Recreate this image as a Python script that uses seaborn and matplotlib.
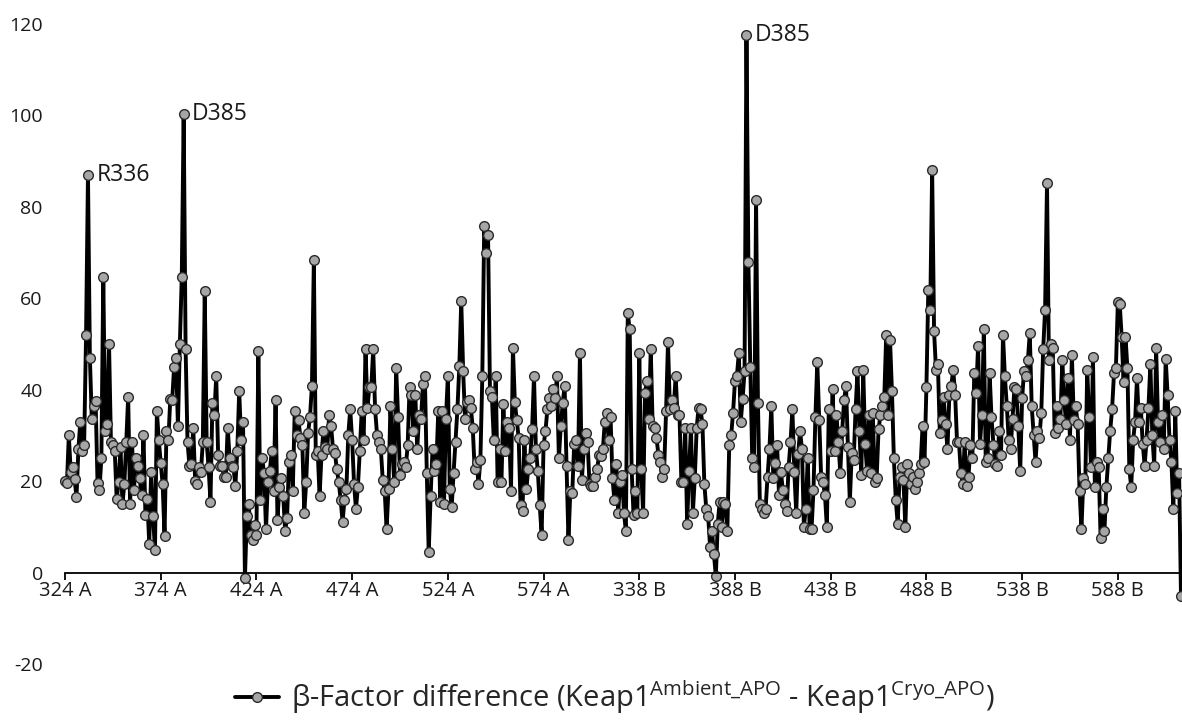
import matplotlib
matplotlib.use("Agg")
import matplotlib.pyplot as plt
import seaborn as sns
import numpy as np
import pandas as pd

# ---- data ----
chain_a_values = [
    20, 19.5, 30, 22, 23, 20.5, 16.5, 27, 33, 26.5, 28, 52, 87, 47, 33.5, 36.5, 37.5, 19.5, 18, 25,
    64.7, 31, 32.5, 50, 28.6, 28, 26.6, 16, 19.8, 27.4, 15, 19.4, 28.6, 38.5, 15, 28.6, 18, 25, 23.4, 20.6,
    17, 30, 12.7, 16, 6.3, 22, 12.3, 5, 35.3, 29, 24, 19.4, 8, 31, 29, 38, 37.7, 45, 47, 32,
    50, 64.7, 100.4, 49, 28.6, 23.4, 23.8, 31.7, 20, 19.4, 23, 22, 28.6, 61.5, 28.6, 23, 15.5, 37, 34.5, 42.9,
    25.8, 23.4, 23.4, 21, 21, 31.7, 25, 23.4, 23, 19, 26.6, 39.7, 29, 33, -1.2, 12.3, 15, 8.3, 7.1, 10.3,
    8.3, 48.4, 15.9, 25, 21.8, 9.5, 19.8, 22.2, 26.6, 17.9, 37.7, 11.5, 18.7, 20.6, 16.7, 9.1, 11.9, 24.2, 25.8, 17.9,
    35.3, 30.2, 33.3, 29.4, 27.8, 13.1, 19.8, 30.6, 34.1, 40.9, 68.3, 25.8, 26.6, 16.7, 25.8, 31, 27.4, 27, 34.5, 32.1,
    27, 26.2, 22.6, 19.8, 15.9, 11.1, 15.9, 18.3, 30.2, 35.7, 29, 19.4, 13.9, 18.7, 26.6, 35.3, 29, 48.8, 36.1, 40.5,
    40.5, 48.8, 35.7, 30.2, 28.6, 27, 20.2, 17.9, 9.5, 18.3, 36.5, 27, 19.8, 44.8, 34.1, 21.4, 23.8, 24.2, 23, 27.8,
    40.5, 38.9, 31, 38.9, 27, 34.5, 33.7, 41.3, 42.9, 21.8, 4.4, 16.7, 27, 22.2, 23.8, 35.3, 15.5, 35.3, 15, 33.7,
    42.9, 18.3, 14.3, 21.8, 28.6, 35.7, 45.2, 59.5, 44, 33.7, 37.3, 37.7, 36.1, 31.7, 22.6, 24.2, 19.4, 24.6, 42.9, 75.8,
    69.8, 73.8, 39.7, 38.5, 29, 42.9, 19.8, 27, 19.8, 36.9, 26.6, 33, 31.7, 17.9, 49.2, 37.3, 33.3, 29.4, 14.7, 13.5,
    29, 18.3, 22.6, 25, 31.3, 42.9, 27, 22.2, 14.7, 8.3, 27.8, 31, 35.7, 38.1, 36.5, 40.1, 38.1, 42.9, 25, 32.1,
    37, 40.9, 23.4, 7.1, 17.9, 17.5, 28.2, 29, 23.4, 48, 20.2, 27, 30.6, 28.6, 19.4, 19, 19, 21, 22.6, 25.8,
    25.4, 27, 33, 34.9, 29, 34.1,
]
chain_b_values = [
    20.6, 15.9, 23.8, 13.1, 19.8, 21.4, 13.1, 9.1, 56.7, 53.2, 22.6, 12.7, 17.9, 13.1, 48, 22.6, 13.1, 39.3, 42, 33.7,
    48.8, 32.1, 31.7, 29.4, 25.8, 24.2, 21, 22.6, 35.3, 50.4, 35.7, 37.7, 36.1, 42.9, 34.5, 34.5, 19.8, 19.8, 31.7, 10.7,
    22.2, 31.7, 13.1, 20.6, 31.7, 36.1, 35.7, 32.5, 19.4, 13.9, 12.3, 5.6, 9.1, 4, -0.8, 10.7, 15.5, 9.9, 15.5, 15,
    9, 28, 30, 35, 42, 43, 48, 33, 38, 44, 117.6, 68, 45, 25, 23, 81.6, 37, 15, 14, 13,
    14, 21, 27, 36.5, 20.6, 24, 28, 17, 22, 18, 15, 13.5, 23, 28.5, 35.7, 22, 13, 26, 31, 27,
    10, 14, 25, 9.5, 9.5, 18, 34, 46, 33.3, 21, 19.8, 17, 9.9, 35.7, 26.6, 40.1, 26.6, 34.5, 28.6, 21.8,
    31, 37.7, 40.9, 27.4, 15.5, 26.2, 24.6, 35.7, 44, 31, 21.4, 44.4, 28.2, 22.2, 34.5, 21.8, 34.9, 19.8, 20.6, 31.3,
    34.5, 36.5, 38.5, 52, 34.5, 50.8, 39.7, 25, 15.9, 10.7, 21, 23, 20.2, 9.9, 23.8, 21.8, 19.4, 21, 18.3, 19.8,
    21.8, 23.8, 32.1, 24.2, 40.5, 61.9, 57.5, 88.1, 52.8, 44.4, 45.6, 30.6, 33.3, 38.5, 32.5, 27, 38.9, 40.9, 44.4, 38.9,
    28.6, 28.6, 21.8, 19.4, 28.6, 19, 21, 27.8, 25, 43.7, 39.3, 49.6, 28.2, 34.5, 53.2, 24.2, 25, 43.7, 34.1, 28,
    23.8, 23.4, 31, 25.8, 52, 42.9, 36.5, 29, 27, 33.7, 40.5, 40.1, 32.1, 22.2, 38.1, 44, 42.9, 46.4, 52.4, 36.5,
    30.2, 24.2, 31, 29.4, 34.9, 48.8, 57.5, 85.3, 46.4, 50, 49.2, 30.6, 36.5, 31.7, 33.7, 46.4, 37.7, 32.5, 42.5, 29,
    47.6, 33.3, 36.5, 32.5, 17.9, 9.5, 20.6, 19.4, 44.4, 34.1, 23, 47.2, 18.7, 24.2, 23, 7.5, 13.9, 9.1, 18.7, 25,
    31, 35.7, 43.7, 44.8, 59.1, 58.7, 51.6, 41.7, 51.6, 44.8, 22.6, 18.7, 29, 32.9, 42.5, 32.9, 36.1, 28.2, 23.4, 29,
    36.1, 45.6, 30.2, 23.4, 49.2, 32.9, 28.6, 34.5, 27, 46.8, 38.9, 29, 24.2, 13.9, 35.3, 17.5, 21.8, -5.2,
]
tick_labels = ["324 A", "374 A", "424 A", "474 A", "524 A", "574 A",
               "338 B", "388 B", "438 B", "488 B", "538 B", "588 B"]
annotations = [("R336", 12), ("D385", 62), ("D385", 356)]
legend_label = (r"β-Factor difference (Keap1$^{\mathregular{Ambient\_APO}}$"
                r" - Keap1$^{\mathregular{Cryo\_APO}}$)")

values = chain_a_values + chain_b_values
df = pd.DataFrame({"pos": np.arange(len(values)), "bfac": values})

sns.set_theme(style="white")
plt.rcParams["font.family"] = ["Open Sans", "DejaVu Sans"]
plt.rcParams["mathtext.fontset"] = "custom"
plt.rcParams["mathtext.rm"] = "Open Sans"
plt.rcParams["axes.unicode_minus"] = False

W, H = 1182, 721
fig = plt.figure(figsize=(W / 100, H / 100), dpi=100)
x0, x1 = 65, 1181
y_top, y_bot = 24, 664
ax = fig.add_axes([x0 / W, 1 - y_bot / H, (x1 - x0) / W, (y_bot - y_top) / H])

sns.lineplot(data=df, x="pos", y="bfac", ax=ax, sort=False, color="black",
             linewidth=2.8, marker="o", markersize=7, markerfacecolor="#a6a6a6",
             markeredgecolor="#2a2a2a", markeredgewidth=1.0, label=legend_label,
             clip_on=False, errorbar=None)

ax.set_xlim(0, len(values) - 1)
ax.set_ylim(-20, 120)
ax.set_yticks(np.arange(-20, 121, 20))
ax.set_xticks(np.arange(0, 12 * 50, 50))
ax.set_xticklabels(tick_labels)
ax.set_xlabel("")
ax.set_ylabel("")

for s in ["top", "right", "left"]:
    ax.spines[s].set_visible(False)
ax.spines["bottom"].set_position(("data", 0))
ax.spines["bottom"].set_color("black")
ax.spines["bottom"].set_linewidth(1.3)
ax.tick_params(axis="x", direction="out", length=5, width=1.3, color="black",
               labelsize=14.5, pad=1, bottom=True)
ax.tick_params(axis="y", length=0, labelsize=14, pad=16)
for t in ax.get_xticklabels() + ax.get_yticklabels():
    t.set_color("#1a1a1a")

for text, i in annotations:
    ax.annotate(text, (i, values[i]), xytext=(6, 0), textcoords="offset points",
                va="center", ha="left", fontsize=16.5, color="#1a1a1a")

ax.get_legend().remove()
handles, labels = ax.get_legend_handles_labels()
fig.legend(handles, labels, loc="center", bbox_to_anchor=(615 / W, 1 - 697 / H),
           frameon=False, fontsize=21, handlelength=1.5, handletextpad=0.4)

fig.savefig("out.png", dpi=100)
